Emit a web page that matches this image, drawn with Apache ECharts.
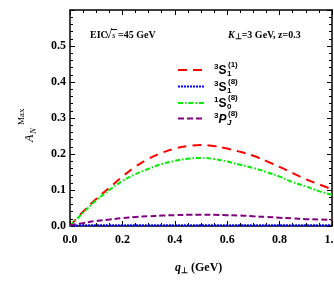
<!DOCTYPE html>
<html><head><meta charset="utf-8">
<script src="https://cdn.jsdelivr.net/npm/echarts@6/dist/echarts.min.js"></script>
<style>html,body{margin:0;padding:0;background:#fff}#c{width:334px;height:283px}</style>
</head><body><div id="c"></div>
<script>
var qPerp = [0, 0.05, 0.1, 0.15, 0.2, 0.25, 0.3, 0.35, 0.4, 0.45, 0.5, 0.55, 0.6, 0.65, 0.7, 0.75, 0.8, 0.85, 0.9, 0.95, 1.0];
var s3S1_1 = [0, 0.040, 0.075, 0.106, 0.137, 0.165, 0.187, 0.203, 0.215, 0.222, 0.225, 0.222, 0.215, 0.206, 0.195, 0.180, 0.164, 0.147, 0.130, 0.116, 0.102];
var s3S1_8 = [0, 0.002, 0.002, 0.002, 0.002, 0.002, 0.002, 0.002, 0.002, 0.002, 0.002, 0.002, 0.002, 0.002, 0.002, 0.002, 0.002, 0.002, 0.002, 0.002, 0.002];
var s1S0_8 = [0, 0.037, 0.071, 0.100, 0.125, 0.144, 0.159, 0.172, 0.181, 0.187, 0.189, 0.186, 0.179, 0.170, 0.161, 0.150, 0.137, 0.122, 0.110, 0.097, 0.087];
var s3PJ_8 = [0.002, 0.008, 0.014, 0.018, 0.022, 0.025, 0.027, 0.029, 0.030, 0.031, 0.031, 0.031, 0.030, 0.029, 0.027, 0.025, 0.023, 0.021, 0.019, 0.018, 0.017];
var xTicks = [0, 0.2, 0.4, 0.6, 0.8, 1.0];
var yTicks = [0, 0.1, 0.2, 0.3, 0.4, 0.5, 0.6];

function pairs(v){ return qPerp.map(function(q,i){return [q, v[i]];}); }

var serif = 'Liberation Serif';
var chart = echarts.init(document.getElementById('c'), null, {renderer:'canvas'});
function ax(extra, split){
  return Object.assign({
    min: 0,
    axisLine:{show:true, onZero:false, lineStyle:{color:'#000', width:1.5}},
    axisTick:{show:true, inside:true, length:5, lineStyle:{color:'#000', width:1}},
    minorTick:{show:true, splitNumber:split, length:3, lineStyle:{color:'#000', width:1}},
    splitLine:{show:false}
  }, extra);
}

function seriesOf(name, data, color, dash){
  return {type:'line', name:name, data:pairs(data), xAxisIndex:0, yAxisIndex:0, showSymbol:false, symbol:'none', smooth:true,
    lineStyle:{color:color, width:2, type:dash}, z:3};
}

var legendItems = [
  {color:'#ff0000', dash:[9,6], y:70, pre:'3', main:'S', sub:'1', sup:'(1)', italic:false},
  {color:'#0000ff', dash:[2,1], y:86.5, pre:'3', main:'S', sub:'1', sup:'(8)', italic:false},
  {color:'#00ee00', dash:[5,2,1.5,2], y:103, pre:'1', main:'S', sub:'0', sup:'(8)', italic:false},
  {color:'#800080', dash:[6,3], y:118.5, pre:'3', main:'P', sub:'J', sup:'(8)', italic:true}
];
var graphics = [];
legendItems.forEach(function(it){
  graphics.push({type:'line', shape:{x1:178, y1:it.y, x2:205, y2:it.y}, style:{stroke:it.color, lineWidth:2, lineDash:it.dash}});
  graphics.push({type:'text', x:214, y:it.y-3, style:{text:it.pre, font:'bold 8px "Liberation Sans"', fill:'#000', verticalAlign:'middle'}});
  graphics.push({type:'text', x:218.5, y:it.y+1, style:{text:it.main, font:(it.italic?'italic ':'')+'bold 12px "Liberation Sans"', fill:'#000', verticalAlign:'middle'}});
  graphics.push({type:'text', x:227, y:it.y+4, style:{text:it.sub, font:(it.italic?'italic ':'')+'bold 8px "Liberation Sans"', fill:'#000', verticalAlign:'middle'}});
  graphics.push({type:'text', x:228, y:it.y-5, style:{text:it.sup, font:'bold 8px "Liberation Sans"', fill:'#000', verticalAlign:'middle'}});
});
graphics.push({type:'text', x:90, y:35, style:{text:'EIC', font:'bold 10px "'+serif+'"', fill:'#000', verticalAlign:'middle'}});
graphics.push({type:'text', x:105, y:35, style:{text:'\u221A', font:'bold 13px "'+serif+'"', fill:'#000', verticalAlign:'middle'}});
graphics.push({type:'line', shape:{x1:111, y1:29.5, x2:117, y2:29.5}, style:{stroke:'#000', lineWidth:1}});
graphics.push({type:'text', x:112, y:35.5, style:{text:'s', font:'italic 9px "'+serif+'"', fill:'#000', verticalAlign:'middle'}});
graphics.push({type:'text', x:118, y:35, style:{text:'=45 GeV', font:'bold 10px "'+serif+'"', fill:'#000', verticalAlign:'middle'}});
graphics.push({type:'text', x:228, y:35, style:{text:'{i|K}{s|\u22A5}=3 GeV, z=0.3', font:'bold 10px "'+serif+'"', fill:'#000', verticalAlign:'middle',
  rich:{i:{fontStyle:'italic', fontWeight:'bold', fontSize:10, fontFamily:serif}, s:{fontSize:8, fontWeight:'bold', fontFamily:serif, padding:[4,0,0,0]}}}});
graphics.push({type:'text', x:175, y:268, style:{text:'{i|q}{s|\u22A5} (GeV)', font:'bold 12px "'+serif+'"', fill:'#000', verticalAlign:'middle',
  rich:{i:{fontStyle:'italic', fontWeight:'bold', fontSize:12, fontFamily:serif}, s:{fontSize:8, fontWeight:'bold', fontFamily:serif, padding:[5,0,0,0]}}}});
graphics.push({type:'group', x:30, y:142, rotation:Math.PI/2, children:[
  {type:'text', x:0, y:0, style:{text:'A', font:'italic 12px "'+serif+'"', fill:'#000', verticalAlign:'middle'}},
  {type:'text', x:8, y:4, style:{text:'N', font:'italic 9px "'+serif+'"', fill:'#000', verticalAlign:'middle'}},
  {type:'text', x:17, y:-8, style:{text:'Max', font:'9px "'+serif+'"', fill:'#000', verticalAlign:'middle'}}
]});

var option = {
  animation:false,
  grid:{left:70, top:10, width:262, height:216, outerBoundsMode:'none', containLabel:false},
  xAxis:[
    ax({type:'value', position:'bottom', max:1.0, interval:0.2,
      axisLabel:{show:true, margin:8, color:'#000', fontFamily:serif, fontWeight:'bold', fontSize:12,
        formatter:function(v){ var t=xTicks.filter(function(x){return Math.abs(x-v)<1e-9;}); return t.length? t[0].toFixed(1):''; }}}, 4),
    ax({type:'value', position:'top', max:1.0, interval:0.2, axisLabel:{show:false}}, 4)
  ],
  yAxis:[
    ax({type:'value', position:'left', max:0.6, interval:0.1,
      axisLabel:{show:true, margin:4, color:'#000', fontFamily:serif, fontWeight:'bold', fontSize:12,
        formatter:function(v){ if (v>0.55) return ''; var t=yTicks.filter(function(x){return Math.abs(x-v)<1e-9;}); return t.length? t[0].toFixed(1):''; }}}, 5),
    ax({type:'value', position:'right', max:0.6, interval:0.1, axisLabel:{show:false}}, 5)
  ],
  series:[
    seriesOf('3S1(1)', s3S1_1, '#ff0000', [9,6]),
    seriesOf('3S1(8)', s3S1_8, '#0000ff', [2,1]),
    seriesOf('1S0(8)', s1S0_8, '#00ee00', [5,2,1.5,2]),
    seriesOf('3PJ(8)', s3PJ_8, '#800080', [6,3])
  ],
  graphic:graphics
};
chart.setOption(option);
</script></body></html>
